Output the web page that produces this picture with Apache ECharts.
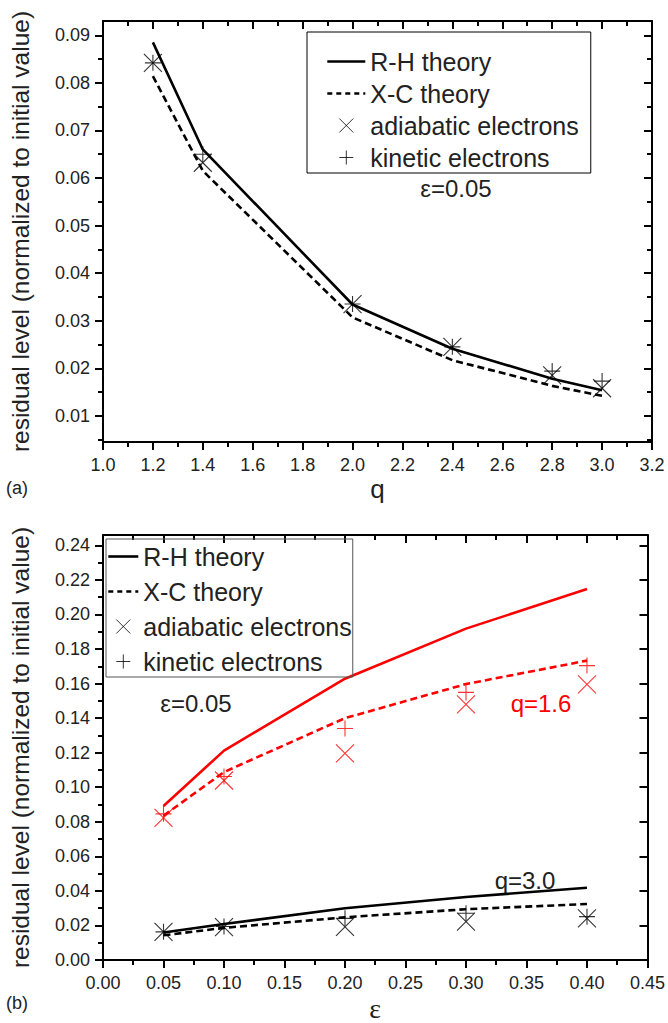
<!DOCTYPE html>
<html><head><meta charset="utf-8">
<script src="https://cdn.jsdelivr.net/npm/echarts@6/dist/echarts.min.js"></script>
<style>html,body{margin:0;padding:0;background:#fff}#c{width:668px;height:1023px}</style>
</head><body><div id="c"></div>
<script>
// ---------- Panel (a): residual level vs q (eps = 0.05) ----------
const qValues      = [1.2, 1.4, 2.0, 2.4, 2.8, 3.0];
const rhTheoryA    = [0.0885, 0.0660, 0.0334, 0.0241, 0.0178, 0.0154];
const xcTheoryA    = [0.0814, 0.0615, 0.0307, 0.0217, 0.0163, 0.0142];
const adiabaticA   = [0.0842, 0.0632, 0.0335, 0.0245, 0.0185, 0.0158];
const kineticA     = [0.0842, 0.0650, 0.0335, 0.0245, 0.0194, 0.0173];

// ---------- Panel (b): residual level vs eps ----------
const epsValues    = [0.05, 0.10, 0.20, 0.30, 0.40];
const rhTheoryQ16  = [0.0891, 0.1212, 0.1628, 0.1918, 0.2147];
const xcTheoryQ16  = [0.0835, 0.1088, 0.1400, 0.1597, 0.1733];
const adiabaticQ16 = [0.0823, 0.1039, 0.1196, 0.1480, 0.1596];
const kineticQ16   = [0.0846, 0.1062, 0.1340, 0.1549, 0.1704];
const rhTheoryQ30  = [0.0159, 0.0208, 0.0300, 0.0365, 0.0418];
const xcTheoryQ30  = [0.0143, 0.0186, 0.0247, 0.0294, 0.0324];
const adiabaticQ30 = [0.0163, 0.0190, 0.0192, 0.0222, 0.0241];
const kineticQ30   = [0.0163, 0.0194, 0.0241, 0.0271, 0.0251];

// ---------- tick values ----------
const yMajorA = [0.01, 0.02, 0.03, 0.04, 0.05, 0.06, 0.07, 0.08, 0.09];
const yMinorA = [0.005, 0.015, 0.025, 0.035, 0.045, 0.055, 0.065, 0.075, 0.085];
const yMajorB = [0.00, 0.02, 0.04, 0.06, 0.08, 0.10, 0.12, 0.14, 0.16, 0.18, 0.20, 0.22, 0.24];
const yMinorB = [0.01, 0.03, 0.05, 0.07, 0.09, 0.11, 0.13, 0.15, 0.17, 0.19, 0.21, 0.23];

const seriesNames = ['R-H theory', 'X-C theory', 'adiabatic electrons', 'kinetic electrons'];
const yTitle = 'residual level (normalized to initial value)';

const FONT = '"Liberation Sans", Arial, sans-serif';
const TXT = '#222';
const crossPath = 'path://M0,0L10,10M10,0L0,10';
const plusPath  = 'path://M5,0L5,10M0,5L10,5';
const axisLine = {show: true, onZero: false, lineStyle: {color: '#000', width: 2}};
const tickLine = {color: '#000', width: 2};

function pairs(xs, ys) { return xs.map((x, i) => [x, ys[i]]); }

function xAxes(gridIndex, min, max, interval, digits, name, nameStyle, nameGap) {
  const base = {type: 'value', gridIndex, min, max, interval, splitLine: {show: false}};
  return [
    Object.assign({}, base, {
      position: 'bottom', name, nameLocation: 'middle', nameGap, nameTextStyle: nameStyle,
      axisLine, axisTick: {show: true, length: 8, lineStyle: tickLine},
      minorTick: {show: true, splitNumber: 2, length: 5, lineStyle: tickLine},
      axisLabel: {show: true, formatter: v => v.toFixed(digits), margin: 14, fontSize: 18,
                  color: TXT, fontFamily: FONT, showMinLabel: true, showMaxLabel: true}
    }),
    Object.assign({}, base, {
      position: 'top', axisLine,
      axisTick: {show: true, inside: true, length: 8, lineStyle: tickLine},
      minorTick: {show: true, splitNumber: 2, length: 5, lineStyle: tickLine},
      axisLabel: {show: false}
    })
  ];
}

function yAxes(gridIndex, min, max, major, minor) {
  const base = {type: 'value', gridIndex, min, max, splitLine: {show: false}};
  return [
    Object.assign({}, base, {
      position: 'left', name: yTitle, nameLocation: 'middle', nameGap: 70,
      nameTextStyle: {fontSize: 24.5, color: TXT, fontFamily: FONT},
      axisLine,
      axisTick: {show: true, customValues: major, length: 8, lineStyle: tickLine},
      axisLabel: {show: true, customValues: major, formatter: v => v.toFixed(2), margin: 13,
                  fontSize: 18, color: TXT, fontFamily: FONT}
    }),
    Object.assign({}, base, {
      position: 'left', axisLine: {show: false},
      axisTick: {show: true, customValues: minor, length: 5, lineStyle: tickLine},
      axisLabel: {show: false}
    }),
    Object.assign({}, base, {
      position: 'right', axisLine,
      axisTick: {show: true, inside: true, customValues: major, length: 8, lineStyle: tickLine},
      axisLabel: {show: false}
    }),
    Object.assign({}, base, {
      position: 'right', axisLine: {show: false},
      axisTick: {show: true, inside: true, customValues: minor, length: 5, lineStyle: tickLine},
      axisLabel: {show: false}
    })
  ];
}

function lineSeries(name, xi, yi, xs, ys, color, dashed) {
  return {name, type: 'line', xAxisIndex: xi, yAxisIndex: yi, data: pairs(xs, ys),
    symbol: 'none', smooth: false, z: 3,
    lineStyle: {color, width: 2.6, type: dashed ? [7, 4] : 'solid'}, itemStyle: {color}};
}
function markSeries(name, xi, yi, xs, ys, color, path, size) {
  return {name, type: 'scatter', xAxisIndex: xi, yAxisIndex: yi, data: pairs(xs, ys),
    symbol: path, symbolSize: size, z: 4,
    itemStyle: {color: 'transparent', borderColor: color, borderWidth: 1.1}};
}

function legendData() {
  const hidden = {color: 'transparent', borderColor: 'transparent', borderWidth: 0, opacity: 0};
  return [
    {name: seriesNames[0], itemStyle: hidden, lineStyle: {color: '#000', width: 2.6, type: 'solid'}},
    {name: seriesNames[1], itemStyle: hidden, lineStyle: {color: '#000', width: 2.6, type: [5, 4]}},
    {name: seriesNames[2], itemStyle: {color: 'transparent', borderColor: '#000', borderWidth: 1}},
    {name: seriesNames[3], itemStyle: {color: 'transparent', borderColor: '#000', borderWidth: 1}}
  ];
}
const legendText = {fontSize: 25, lineHeight: 25, color: TXT, fontFamily: FONT};

const chart = echarts.init(document.getElementById('c'), null, {renderer: 'svg', width: 668, height: 1023});

chart.setOption({
  backgroundColor: '#fff',
  animation: false,
  grid: [
    {left: 102, top: 21, width: 550, height: 421},
    {left: 102, top: 535, width: 550, height: 429}
  ],
  xAxis: [].concat(
    xAxes(0, 1.0, 3.2, 0.2, 1, 'q', {fontSize: 26, color: TXT, fontFamily: FONT}, 34),
    xAxes(1, 0, 0.45, 0.05, 2, 'ε', {fontSize: 28, color: TXT, fontFamily: '"Liberation Serif", "DejaVu Serif", serif'}, 34)
  ),
  yAxis: [].concat(
    yAxes(0, 0.0045, 0.093, yMajorA, yMinorA),
    yAxes(1, 0, 0.246, yMajorB, yMinorB)
  ),
  legend: [
    {orient: 'vertical', left: 307, top: 32, data: legendData(), itemWidth: 38, itemHeight: 14,
     itemGap: 7, padding: [17, 12, 3, 19], borderColor: '#000', borderWidth: 1,
     textStyle: legendText, selectedMode: false},
    {orient: 'vertical', left: 106, top: 539, data: legendData(), itemWidth: 30, itemHeight: 14,
     itemGap: 10, padding: [5, 1, 3, 1], borderColor: '#555', borderWidth: 1,
     textStyle: legendText, selectedMode: false}
  ],
  series: [
    lineSeries(seriesNames[0], 0, 0, qValues, rhTheoryA, '#000', false),
    lineSeries(seriesNames[1], 0, 0, qValues, xcTheoryA, '#000', true),
    markSeries(seriesNames[2], 0, 0, qValues, adiabaticA, '#000', crossPath, 18),
    markSeries(seriesNames[3], 0, 0, qValues, kineticA, '#000', plusPath, 16),

    lineSeries(seriesNames[0], 2, 4, epsValues, rhTheoryQ30, '#000', false),
    lineSeries(seriesNames[1], 2, 4, epsValues, xcTheoryQ30, '#000', true),
    markSeries(seriesNames[2], 2, 4, epsValues, adiabaticQ30, '#000', crossPath, 18),
    markSeries(seriesNames[3], 2, 4, epsValues, kineticQ30, '#000', plusPath, 16),

    lineSeries(seriesNames[0], 2, 4, epsValues, rhTheoryQ16, '#ff0000', false),
    lineSeries(seriesNames[1], 2, 4, epsValues, xcTheoryQ16, '#ff0000', true),
    markSeries(seriesNames[2], 2, 4, epsValues, adiabaticQ16, '#ff0000', crossPath, 18),
    markSeries(seriesNames[3], 2, 4, epsValues, kineticQ16, '#ff0000', plusPath, 16)
  ],
  graphic: [
    {type: 'text', left: 6, top: 479, style: {text: '(a)', fontSize: 18, fill: TXT, fontFamily: FONT}},
    {type: 'text', left: 6, top: 994, style: {text: '(b)', fontSize: 18, fill: TXT, fontFamily: FONT}},
    {type: 'text', x: 456, y: 188, style: {text: 'ε=0.05', fontSize: 24, fill: TXT, fontFamily: FONT, align: 'center', verticalAlign: 'middle'}},
    {type: 'text', x: 196, y: 703, style: {text: 'ε=0.05', fontSize: 24, fill: TXT, fontFamily: FONT, align: 'center', verticalAlign: 'middle'}},
    {type: 'text', x: 541, y: 703, style: {text: 'q=1.6', fontSize: 24, fill: '#ff0000', fontFamily: FONT, align: 'center', verticalAlign: 'middle'}},
    {type: 'text', x: 525, y: 880, style: {text: 'q=3.0', fontSize: 24, fill: TXT, fontFamily: FONT, align: 'center', verticalAlign: 'middle'}}
  ]
});
</script>
</body></html>
